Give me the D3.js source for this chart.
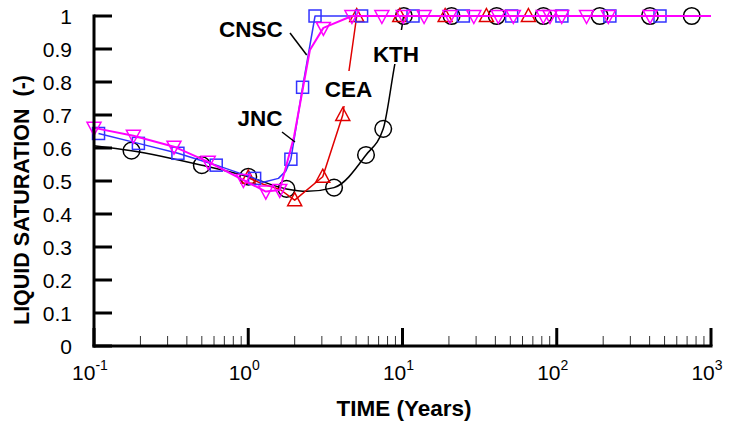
<!DOCTYPE html>
<html>
<head>
<meta charset="utf-8">
<script src="https://cdn.jsdelivr.net/npm/d3@7"></script>
<style>
  html, body { margin: 0; padding: 0; background: #fff; }
  svg { display: block; }
</style>
</head>
<body>
<svg id="chart" width="730" height="423"></svg>
<script>
// ---------------- data ----------------
const yTicks = [0, 0.1, 0.2, 0.3, 0.4, 0.5, 0.6, 0.7, 0.8, 0.9, 1];
const yTickLabels = ["0", "0.1", "0.2", "0.3", "0.4", "0.5", "0.6", "0.7", "0.8", "0.9", "1"];
const xMajorTicks = [0.1, 1, 10, 100, 1000];
const xTickExponents = ["-1", "0", "1", "2", "3"];

// KTH (black circles) — mark: 1 = marker drawn at this point
const kthTime = [0.1, 0.175, 0.5, 1.0, 1.77, 2.4, 3.6, 5.8, 7.5, 8.9, 9.9, 10.2, 20.8, 40.8, 81.9, 190, 402, 750];
const kthSat  = [0.607, 0.592, 0.548, 0.513, 0.476, 0.469, 0.48, 0.579, 0.658, 0.852, 0.965, 1.0, 1, 1, 1, 1, 1, 1];
const kthMark = [0, 1, 1, 1, 1, 0, 1, 1, 1, 0, 0, 1, 1, 1, 1, 1, 1, 1];

// CEA (red up-triangles)
const ceaTime = [1.0, 1.25, 1.6, 2.0, 3.04, 4.1, 5.05, 9.6, 18.9, 35, 65.5];
const ceaSat  = [0.51, 0.49, 0.475, 0.442, 0.513, 0.70, 1.0, 1, 1, 1, 1];
const ceaMark = [1, 0, 0, 1, 1, 1, 1, 1, 1, 1, 1];

// CNSC (blue squares)
const cnscTime = [0.107, 0.194, 0.35, 0.62, 1.1, 1.25, 1.57, 1.75, 1.89, 2.25, 2.71, 5.43, 11.7, 24.8, 51, 108, 221, 467];
const cnscSat  = [0.644, 0.614, 0.584, 0.548, 0.508, 0.496, 0.508, 0.53, 0.566, 0.784, 1.0, 1, 1, 1, 1, 1, 1, 1];
const cnscMark = [1, 1, 1, 1, 1, 0, 0, 0, 1, 1, 1, 1, 1, 1, 1, 1, 1, 1];

// JNC (magenta down-triangles)
const jncTime = [0.1, 0.18, 0.33, 0.55, 0.93, 1.3, 1.6, 1.98, 2.51, 3.07, 4.7, 7.35, 10.1, 13.8, 20.3, 29, 41.8, 52.3, 81.8, 90.4, 107.7, 156, 216, 403, 1000];
const jncSat  = [0.661, 0.637, 0.604, 0.558, 0.503, 0.468, 0.473, 0.634, 0.897, 0.964, 1.0, 1, 1, 1, 1, 1, 1, 1, 1, 1, 1, 1, 1, 1, 1];
const jncMark = [1, 1, 1, 1, 1, 1, 1, 0, 0, 1, 1, 1, 1, 1, 1, 1, 1, 1, 1, 1, 1, 1, 1, 1, 0];

const seriesNames = ["KTH", "CEA", "CNSC", "JNC"];

// ---------------- layout ----------------
const svg = d3.select("#chart");
const x = d3.scaleLog().domain([0.1, 1000]).range([94, 711]);
const y = d3.scaleLinear().domain([0, 1]).range([346, 16]);
const FONT = "'Liberation Sans', Arial, Helvetica, sans-serif";

function zip(t, s, m) { return t.map((v, i) => ({ t: v, s: s[i], m: m[i] })); }

const series = [
  { name: "KTH", data: zip(kthTime, kthSat, kthMark), color: "#000000", shape: "circle", curve: d3.curveMonotoneX, width: 1.5 },
  { name: "CEA", data: zip(ceaTime, ceaSat, ceaMark), color: "#e00000", shape: "up", curve: d3.curveLinear, width: 1.5 },
  { name: "CNSC", data: zip(cnscTime, cnscSat, cnscMark), color: "#3333ff", shape: "square", curve: d3.curveLinear, width: 1.5 },
  { name: "JNC", data: zip(jncTime, jncSat, jncMark), color: "#ff00ff", shape: "down", curve: d3.curveLinear, width: 2 }
];

// ---------------- series ----------------
const gData = svg.append("g");
series.forEach(sr => {
  const line = d3.line().x(d => x(d.t)).y(d => y(d.s)).curve(sr.curve);
  gData.append("path")
    .attr("d", line(sr.data))
    .attr("fill", "none")
    .attr("stroke", sr.color)
    .attr("stroke-width", sr.width)
    .attr("stroke-linejoin", "round");
  const pts = sr.data.filter(d => d.m);
  const g = gData.append("g").attr("fill", "none").attr("stroke", sr.color).attr("stroke-width", 1.5);
  pts.forEach(d => {
    const cx = x(d.t), cy = y(d.s);
    if (sr.shape === "circle") {
      g.append("circle").attr("cx", cx).attr("cy", cy).attr("r", 8.3);
    } else if (sr.shape === "square") {
      g.append("rect").attr("x", cx - 6).attr("y", cy - 6).attr("width", 12).attr("height", 12);
    } else if (sr.shape === "up") {
      g.append("path").attr("d", `M${cx},${cy - 7.5}L${cx + 7},${cy + 5.5}L${cx - 7},${cy + 5.5}Z`);
    } else {
      g.append("path").attr("d", `M${cx - 7},${cy - 5.5}L${cx + 7},${cy - 5.5}L${cx},${cy + 7.5}Z`);
    }
  });
});

// ---------------- labels ----------------
const gLab = svg.append("g").attr("font-family", FONT).attr("font-weight", "bold").attr("font-size", 22.5).attr("fill", "#000");
// white boxes for labels sitting on lines
gLab.append("rect").attr("x", 326).attr("y", 71).attr("width", 46).attr("height", 35).attr("fill", "#fff");
gLab.append("rect").attr("x", 373).attr("y", 30).attr("width", 46).attr("height", 34).attr("fill", "#fff");
const labels = [
  { text: seriesNames[2], cx: 251, cy: 29 },
  { text: seriesNames[3], cx: 260, cy: 117.5 },
  { text: seriesNames[1], cx: 348.5, cy: 89 },
  { text: seriesNames[0], cx: 396, cy: 54 }
];
labels.forEach(l => {
  gLab.append("text").attr("x", l.cx).attr("y", l.cy + 8).attr("text-anchor", "middle").text(l.text);
});
// leader lines
svg.append("line").attr("x1", 290).attr("y1", 33).attr("x2", 306.7).attr("y2", 55).attr("stroke", "#000").attr("stroke-width", 1.5);
svg.append("line").attr("x1", 282).attr("y1", 132).attr("x2", 295).attr("y2", 142).attr("stroke", "#000").attr("stroke-width", 1.5);

// ---------------- axes ----------------
const gAx = svg.append("g");
// minor x ticks
const minor = [];
for (let dec = 0.1; dec < 1000; dec *= 10) for (let k = 2; k <= 9; k++) minor.push(dec * k);
gAx.selectAll(".minor").data(minor).enter().append("line")
  .attr("x1", d => x(d)).attr("x2", d => x(d))
  .attr("y1", y(0)).attr("y2", y(0) - 10)
  .attr("stroke", "#333").attr("stroke-width", 1);
// major x ticks
gAx.selectAll(".majx").data(xMajorTicks).enter().append("line")
  .attr("x1", d => x(d)).attr("x2", d => x(d))
  .attr("y1", y(0)).attr("y2", y(0) - 18)
  .attr("stroke", "#000").attr("stroke-width", 3);
// major y ticks
gAx.selectAll(".majy").data(yTicks).enter().append("line")
  .attr("x1", x(0.1)).attr("x2", x(0.1) + 18)
  .attr("y1", d => y(d)).attr("y2", d => y(d))
  .attr("stroke", "#000").attr("stroke-width", 3);
// axis lines
gAx.append("line").attr("x1", x(0.1)).attr("x2", x(0.1)).attr("y1", y(0) + 1.5).attr("y2", y(1) - 1.5).attr("stroke", "#000").attr("stroke-width", 3);
gAx.append("line").attr("x1", x(0.1) - 1.5).attr("x2", x(1000) + 1.5).attr("y1", y(0)).attr("y2", y(0)).attr("stroke", "#000").attr("stroke-width", 3);

// y tick labels
gAx.selectAll(".ylab").data(yTicks).enter().append("text")
  .attr("x", 72).attr("y", d => y(d) + 7.5)
  .attr("text-anchor", "end")
  .attr("font-family", FONT).attr("font-size", 21)
  .text((d, i) => yTickLabels[i]);

// x tick labels
xMajorTicks.forEach((v, i) => {
  const t = gAx.append("text")
    .attr("x", x(v) - 4).attr("y", 380)
    .attr("text-anchor", "middle")
    .attr("font-family", FONT).attr("font-size", 21);
  t.append("tspan").text("10");
  t.append("tspan").attr("dy", -10).attr("font-size", 14).text(xTickExponents[i]);
});

// axis titles
svg.append("text")
  .attr("x", 404).attr("y", 416)
  .attr("text-anchor", "middle")
  .attr("font-family", FONT).attr("font-weight", "bold").attr("font-size", 22.5)
  .text("TIME (Years)");
svg.append("text")
  .attr("transform", "translate(29,200) rotate(-90)")
  .attr("text-anchor", "middle")
  .attr("font-family", FONT).attr("font-weight", "bold").attr("font-size", 21.5)
  .attr("xml:space", "preserve")
  .text("LIQUID SATURATION  (-)");
</script>
</body>
</html>
